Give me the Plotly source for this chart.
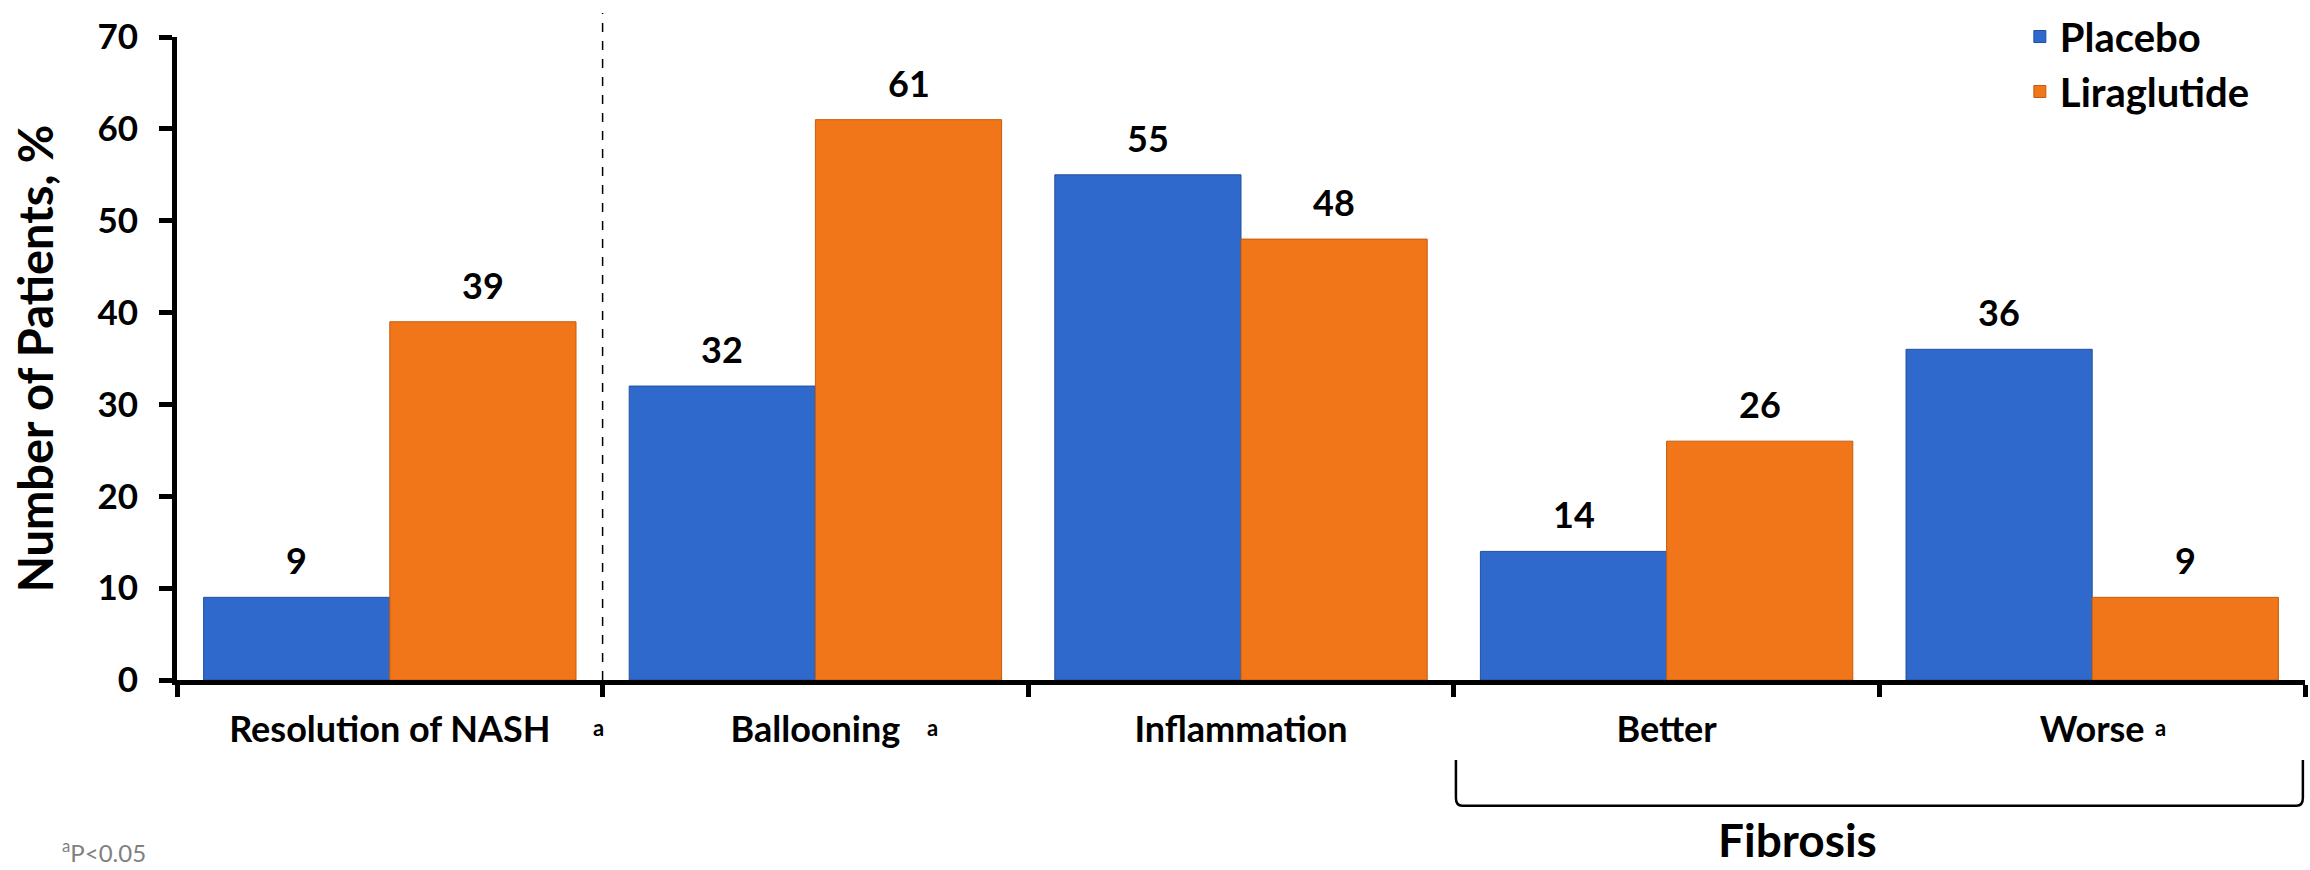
import plotly.graph_objects as go

# Outcome categories and percentages of patients per arm
categories = ["Resolution of NASH", "Ballooning", "Inflammation", "Better", "Worse"]
placebo = [9, 32, 55, 14, 36]
liraglutide = [39, 61, 48, 26, 9]
series_names = ["Placebo", "Liraglutide"]
y_ticks = [0, 10, 20, 30, 40, 50, 60, 70]

# categories flagged as significant (P<0.05)
significant = ["Resolution of NASH", "Ballooning", "Worse"]

FONT = "Lato"
BLUE = "#2F69CB"
ORANGE = "#F07619"

W, H = 2310, 870
M_L, M_R, M_T, M_B = 177, 5, 36, 190
PLOT_H = H - M_T - M_B


def paper_y(px):
    """Convert a pixel row of the page to a paper-y fraction."""
    return (H - M_B - px) / PLOT_H


BARGAP = 0.125
half = (1 - BARGAP) / 4  # centre offset of each bar inside its group

fig = go.Figure()
fig.add_trace(go.Bar(
    x=categories, y=placebo, name=series_names[0],
    marker=dict(color=BLUE, line=dict(color="#2350A0", width=1)),
))
fig.add_trace(go.Bar(
    x=categories, y=liraglutide, name=series_names[1],
    marker=dict(color=ORANGE, line=dict(color="#C45C10", width=1)),
))

annotations = []
# value labels above each bar
for i, (p, l) in enumerate(zip(placebo, liraglutide)):
    for off, v in ((-half, p), (half, l)):
        annotations.append(dict(
            x=i + off, y=v, xref="x", yref="y", text=str(v), showarrow=False,
            yanchor="bottom", yshift=13,
            font=dict(family=FONT, size=36, color="black", weight="bold"),
        ))

# superscript significance marks next to category labels
sig_offset = {"Resolution of NASH": 0.49, "Ballooning": 0.275, "Worse": 0.16}
for c in significant:
    i = categories.index(c)
    annotations.append(dict(
        x=i + sig_offset[c], y=paper_y(728), xref="x", yref="paper", text="a",
        showarrow=False, yanchor="middle",
        font=dict(family=FONT, size=22, color="black", weight="bold"),
    ))

# group label under the bracket
annotations.append(dict(
    x=0.8, y=paper_y(869), xref="paper", yref="paper", text="Fibrosis",
    showarrow=False, yanchor="bottom",
    font=dict(family=FONT, size=46, color="black", weight="bold"),
))

# footnote
annotations.append(dict(
    x=(60 - M_L) / (W - M_L - M_R), y=paper_y(869), xref="paper", yref="paper",
    text="<sup>a</sup>P<0.05", showarrow=False, xanchor="left", yanchor="bottom",
    font=dict(family=FONT, size=24, color="#808080", weight="normal"),
))

# bracket spanning the two fibrosis categories
n = len(categories)
bx0 = categories.index("Better") / n + 0.001
bx1 = 1.0 - 0.001
by0, by1 = paper_y(760), paper_y(806)
rx, ry = 0.003, 0.012
bracket = (
    f"M {bx0},{by0} L {bx0},{by1 + ry} Q {bx0},{by1} {bx0 + rx},{by1} "
    f"L {bx1 - rx},{by1} Q {bx1},{by1} {bx1},{by1 + ry} L {bx1},{by0}"
)

shapes = [
    # dashed separator after the first category
    dict(type="line", xref="x", yref="paper", x0=0.5, x1=0.5, y0=0, y1=paper_y(12),
         line=dict(color="black", width=1.5, dash="dash")),
    dict(type="path", xref="paper", yref="paper", path=bracket,
         line=dict(color="black", width=2.5)),
]

fig.update_layout(
    width=W, height=H,
    margin=dict(l=M_L, r=M_R, t=M_T, b=M_B),
    plot_bgcolor="white", paper_bgcolor="white",
    barmode="group", bargap=BARGAP, bargroupgap=0,
    font=dict(family=FONT, color="black", weight="bold"),
    showlegend=True,
    legend=dict(
        x=0.866, y=paper_y(4), xanchor="left", yanchor="top",
        font=dict(family=FONT, size=40, color="black", weight="bold"),
        bgcolor="rgba(0,0,0,0)", tracegroupgap=0,
    ),
    annotations=annotations,
    shapes=shapes,
)

fig.update_xaxes(
    type="category", range=[-0.5, n - 0.5],
    showline=True, linecolor="black", linewidth=5,
    ticks="outside", tickson="boundaries", ticklen=12, tickwidth=5, tickcolor="black",
    tickfont=dict(family=FONT, size=36, color="black", weight="bold"),
    ticklabelstandoff=14,
    showgrid=False, zeroline=False,
)
fig.update_yaxes(
    range=[0, 70], tickvals=y_ticks,
    showline=True, linecolor="black", linewidth=5,
    ticks="outside", ticklen=13, tickwidth=5, tickcolor="black",
    tickfont=dict(family=FONT, size=35, color="black", weight="bold"),
    ticklabelstandoff=14,
    showgrid=False, zeroline=False,
    title=dict(text="Number of Patients, %", standoff=30,
               font=dict(family=FONT, size=47, color="black", weight="bold")),
)

fig.write_html("out.html")
